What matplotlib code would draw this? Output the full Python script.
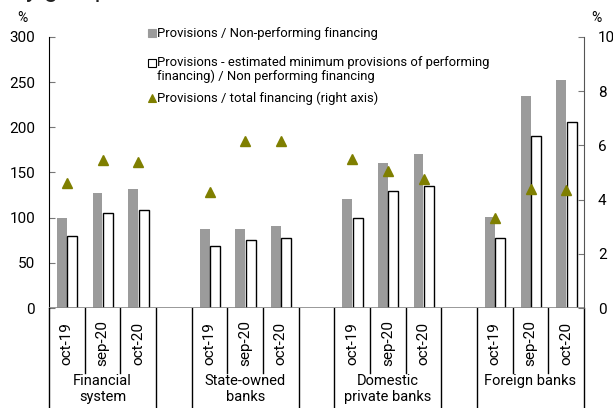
import matplotlib
matplotlib.use("Agg")
import matplotlib.pyplot as plt
from matplotlib.lines import Line2D

plt.rcParams['font.family'] = ['Roboto', 'DejaVu Sans']

# data ------------------------------------------------------------
groups = ['Financial\nsystem', 'State-owned\nbanks', 'Domestic\nprivate banks', 'Foreign banks']
months = ['oct-19', 'sep-20', 'oct-20']
prov_npf = [100, 127, 132,   87, 88, 91,   121, 160, 170,   101, 235, 252]
prov_min = [80, 105, 109,    69, 75, 77,   100, 129, 135,   77, 190, 206]
prov_total = [4.6, 5.47, 5.4,   4.27, 6.18, 6.15,   5.51, 5.05, 4.77,   3.32, 4.4, 4.36]

GRAY = '#9b9b9b'
OLIVE = '#7f7f00'

# each group takes 3 slots, followed by one empty slot
pos = []
for g in range(len(groups)):
    for m in range(len(months)):
        pos.append(g * 4 + m)

fig = plt.figure(figsize=(6.13, 4.08), dpi=100)
ax = fig.add_axes([49 / 613, 100 / 408, 535 / 613, 271 / 408])
ax2 = ax.twinx()

ax.bar([p - 0.14 for p in pos], prov_npf, width=0.28, color=GRAY, zorder=2)
ax.bar([p + 0.15 for p in pos], prov_min, width=0.28, color='white',
       edgecolor='black', linewidth=1, zorder=3)
ax2.plot(pos, prov_total, linestyle='none', marker='^', markersize=7,
         color=OLIVE, zorder=4)

ax.set_xlim(-0.5, 14.5)
ax.set_ylim(0, 300)
ax2.set_ylim(0, 10)
ax.set_yticks(range(0, 301, 50))
ax2.set_yticks(range(0, 11, 2))
ax.set_xticks([])

for side in ['top', 'bottom']:
    ax.spines[side].set_visible(False)
    ax2.spines[side].set_visible(False)
ax.spines['right'].set_visible(False)
ax2.spines['left'].set_visible(False)
ax.spines['left'].set_color('black')
ax2.spines['right'].set_color('#555555')
ax2.spines['right'].set_zorder(6)

ax.tick_params(axis='y', direction='in', length=4, color='#777777',
               labelsize=11, pad=10)
ax2.tick_params(axis='y', direction='in', length=4, color='#777777',
                labelsize=11, pad=10)

ax.axhline(0, color='#888888', linewidth=1.2, zorder=5)

# category axis: separators, month labels and group labels
xt = ax.get_xaxis_transform()
for g in range(len(groups)):
    start = g * 4 - 0.5
    for k in range(4):
        x = start + k
        low = -0.37 if k in (0, 3) else -0.24
        ax.plot([x, x], [0, low], color='black', linewidth=1,
                transform=xt, clip_on=False)
    for m, label in enumerate(months):
        ax.text(g * 4 + m, -0.13, label, rotation=90, ha='center', va='center',
                fontsize=11, transform=xt)
    ax.text(g * 4 + 1, -0.245, groups[g], ha='center', va='top',
            fontsize=10.5, linespacing=1.15, transform=xt)

# legend drawn by hand
def fig_xy(px, py):
    return px / 613, 1 - py / 408

entries = [
    ('s', GRAY, GRAY, 33, 'Provisions / Non-performing financing'),
    ('s', 'white', 'black', 63, 'Provisions - estimated minimum provisions of performing\nfinancing) / Non performing financing'),
    ('^', OLIVE, OLIVE, 98, 'Provisions / total financing (right axis)'),
]
for marker, face, edge, py, text in entries:
    mx, my = fig_xy(152, py)
    fig.add_artist(Line2D([mx], [my], marker=marker, markersize=6,
                          markerfacecolor=face, markeredgecolor=edge,
                          markeredgewidth=0.8, linestyle='none'))
    if '\n' in text:
        tx, ty = fig_xy(157, py - 7)
        fig.text(tx, ty, text, ha='left', va='top', fontsize=9.4, linespacing=1.05)
    else:
        tx, ty = fig_xy(157, py)
        fig.text(tx, ty, text, ha='left', va='center', fontsize=9.4)

# axis units
fig.text(*fig_xy(22, 18), '%', ha='center', va='center', fontsize=10)
fig.text(*fig_xy(596, 18), '%', ha='center', va='center', fontsize=10)

# title line, only its lower edge is inside the figure
fig.text(*fig_xy(12, -3), 'by group of institutions', ha='left', va='baseline',
         fontsize=18, color='#222222')

fig.savefig('out.png', dpi=100)
